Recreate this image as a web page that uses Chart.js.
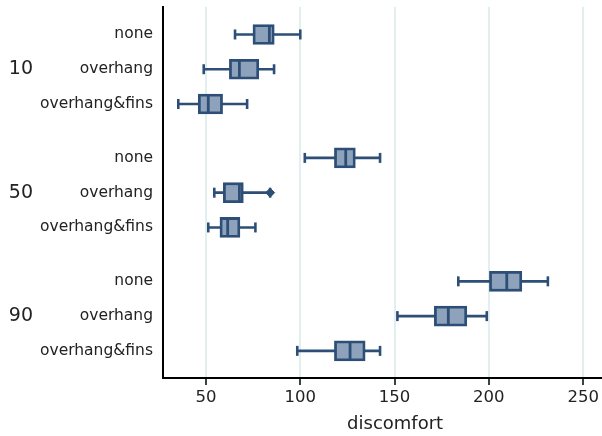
<!DOCTYPE html>
<html><head><meta charset="utf-8">
<script src="https://cdn.jsdelivr.net/npm/chart.js@4"></script>
<style>html,body{margin:0;padding:0;background:#fff}#wrap{width:602px;height:436px;position:relative}</style>
</head><body><div id="wrap"><canvas id="c"></canvas></div>
<script>
const groups = ['10', '50', '90'];
const subcats = ['none', 'overhang', 'overhang&fins'];
const rowPos = [0, 1, 2, 3.55, 4.55, 5.55, 7.1, 8.1, 9.1];
const groupPos = [1, 4.55, 8.1];
const whiskerLow  = [65.4, 48.8, 35.3, 102.4, 54.4, 51.2, 183.8, 151.5, 98.4];
const q1          = [74.9, 62.4, 45.9, 118.1, 59.2, 57.4, 200.3, 171.1, 118.1];
const median      = [83.6, 67.7, 51.2, 124.1, 67.7, 61.5, 209.5, 178.5, 126.4];
const q3          = [86.2, 78.0, 58.8, 129.2, 69.8, 68.0, 217.5, 188.3, 134.4];
const whiskerHigh = [100.0, 86.1, 71.8, 142.3, 84.0, 76.2, 231.3, 198.9, 142.3];
const outlierRows = [4];
const outlierValues = [84.0];
const xTicks = [50, 100, 150, 200, 250];
const xTitle = 'discomfort';

const FONT = "'DejaVu Sans', sans-serif";
const EDGE = '#2d4e76';
const FILL = '#8ea2bc';
const TEXT = '#222222';

const boxData = rowPos.map((p, i) => ({ y: p, x: [q1[i], q3[i]] }));
const whiskerData = [];
rowPos.forEach((p, i) => {
  whiskerData.push({ x: whiskerLow[i], y: p }, { x: whiskerHigh[i], y: p }, { x: null, y: p });
});
const medianData = rowPos.map((p, i) => ({ x: median[i], y: p }));
const outlierData = outlierRows.map((r, i) => ({ x: outlierValues[i], y: rowPos[r] }));

const titlePlugin = {
  id: 'xTitle',
  afterDraw(chart) {
    const xs = chart.scales.x;
    const ctx = chart.ctx;
    ctx.save();
    ctx.font = '18px ' + FONT;
    ctx.fillStyle = TEXT;
    ctx.textAlign = 'center';
    ctx.textBaseline = 'middle';
    ctx.fillText(xTitle, xs.getPixelForValue(150.3), xs.bottom - 12);
    ctx.restore();
  }
};

new Chart(document.getElementById('c'), {
  type: 'bar',
  data: {
    datasets: [
      {
        type: 'line', label: 'whiskers', data: whiskerData, order: 3,
        xAxisID: 'x', yAxisID: 'y',
        borderColor: EDGE, borderWidth: 2.6, fill: false, spanGaps: false, tension: 0,
        pointStyle: 'line', pointRotation: 90, pointRadius: 5,
        pointBorderColor: EDGE, pointBorderWidth: 2.6, pointBackgroundColor: EDGE
      },
      {
        type: 'bar', label: 'box', data: boxData, order: 2,
        xAxisID: 'x', yAxisID: 'y',
        barThickness: 20, backgroundColor: FILL, borderColor: EDGE,
        borderWidth: 2.8, borderSkipped: false
      },
      {
        type: 'line', label: 'median', data: medianData, order: 1, showLine: false,
        xAxisID: 'x', yAxisID: 'y',
        pointStyle: 'line', pointRotation: 90, pointRadius: 8.6,
        pointBorderColor: EDGE, pointBorderWidth: 2.8
      },
      {
        type: 'line', label: 'outliers', data: outlierData, order: 0, showLine: false,
        xAxisID: 'x', yAxisID: 'y',
        pointStyle: 'rectRot', pointRadius: 4.5,
        pointBorderColor: EDGE, pointBorderWidth: 1, pointBackgroundColor: EDGE
      }
    ]
  },
  options: {
    indexAxis: 'y',
    responsive: true,
    maintainAspectRatio: false,
    animation: false,
    events: [],
    layout: { autoPadding: false, padding: { top: 7, right: 0, left: 0, bottom: 0 } },
    plugins: { legend: { display: false }, tooltip: { enabled: false } },
    scales: {
      x: {
        type: 'linear', position: 'bottom', min: 27.2, max: 260,
        afterBuildTicks: s => { s.ticks = xTicks.map(v => ({ value: v })); },
        afterFit: s => { s.height = 58; s.paddingLeft = 0; s.paddingRight = 0; },
        grid: { color: '#e2efee', lineWidth: 2, tickColor: '#000', tickLength: 7, tickWidth: 1.5 },
        border: { color: '#000', width: 2 },
        ticks: { font: { family: FONT, size: 16.5 }, color: TEXT, padding: 3, maxRotation: 0 }
      },
      y: {
        type: 'linear', position: 'left', min: -0.79, max: 9.88, reverse: true, offset: false,
        weight: 0,
        afterBuildTicks: s => { s.ticks = rowPos.map(v => ({ value: v })); },
        afterFit: s => { s.width = 123; s.paddingTop = 0; s.paddingBottom = 0; },
        grid: { display: false, drawTicks: false },
        border: { color: '#000', width: 2 },
        ticks: {
          font: { family: FONT, size: 15.5 }, color: TEXT, padding: 10, autoSkip: false,
          callback: (v, i) => subcats[i % subcats.length]
        }
      },
      y2: {
        type: 'linear', position: 'left', min: -0.79, max: 9.88, reverse: true, offset: false,
        weight: 1,
        afterBuildTicks: s => { s.ticks = groupPos.map(v => ({ value: v })); },
        afterFit: s => { s.width = 40; s.paddingTop = 0; s.paddingBottom = 0; },
        grid: { display: false, drawTicks: false },
        border: { display: false },
        ticks: {
          font: { family: FONT, size: 19 }, color: TEXT, padding: 7, autoSkip: false,
          callback: (v, i) => groups[i]
        }
      }
    }
  },
  plugins: [titlePlugin]
});
</script>
</body></html>
